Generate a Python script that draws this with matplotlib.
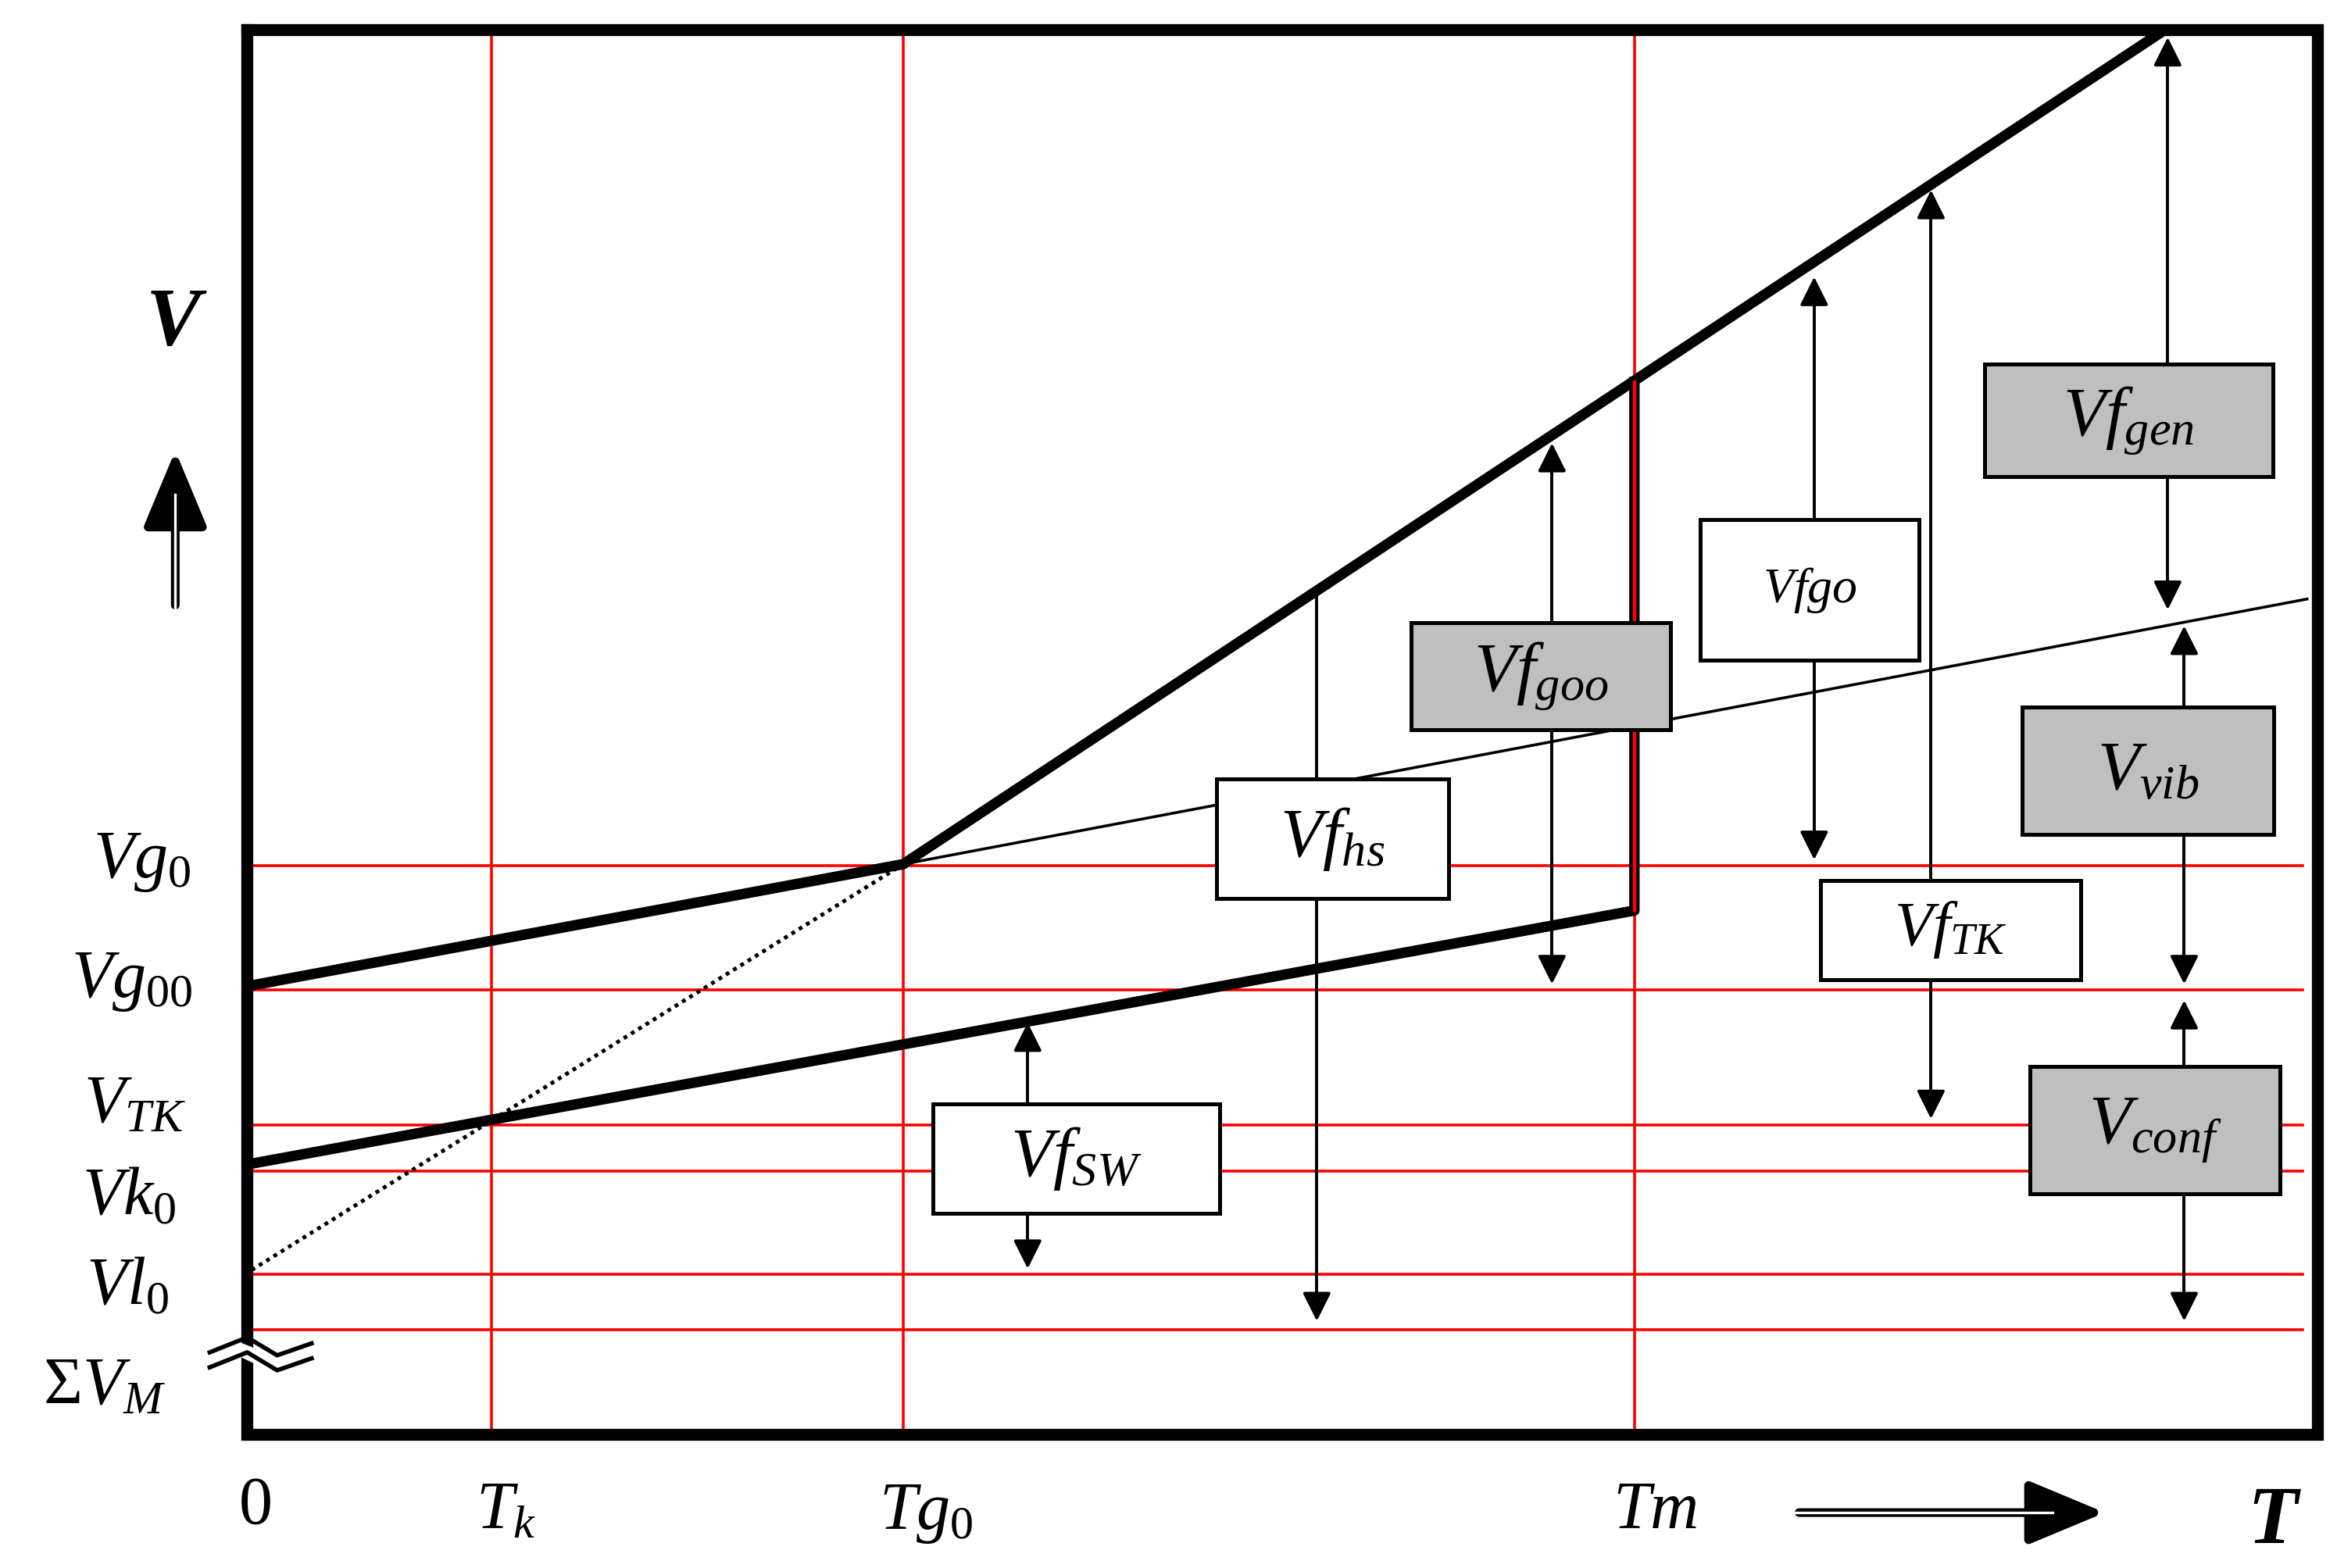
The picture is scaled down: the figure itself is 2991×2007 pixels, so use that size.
import matplotlib.pyplot as plt
import matplotlib as mpl

mpl.rcParams['mathtext.fontset'] = 'custom'
mpl.rcParams['mathtext.rm'] = 'Liberation Serif'
mpl.rcParams['mathtext.it'] = 'Liberation Serif:italic'
mpl.rcParams['mathtext.bf'] = 'Liberation Serif:bold:italic'

# diagram coordinates (screen-like units, y grows downward)
T_levels = {'0': 168, 'Tk': 328, 'Tg0': 603, 'Tm': 1091}
V_levels = {'Vg0': 578, 'Vg00': 661, 'VTK': 751, 'Vk0': 782, 'Vl0': 851, 'SVM': 888}
x_left, x_right, y_top, y_bot = 165, 1547, 20, 958

# thick glass line (upper), thin liquid continuation, dotted extrapolation, crystal line
upper_x = [168, 603, 1445]
upper_y = [658, 577, 20]
thin_x = [603, 1540]
thin_y = [577, 400]
dot_x = [168, 603]
dot_y = [848, 577]
cryst_x = [168, 1091, 1091]
cryst_y = [777, 608, 255]

# double arrows: x, top, bottom, head at top, head at bottom
arrows = [
    (879, 394, 885, False, True),
    (1036, 293, 660, True, True),
    (1211, 182, 577, True, True),
    (1289, 124, 750, True, True),
    (1447, 22, 410, True, True),
    (1458, 415, 660, True, True),
    (1458, 665, 885, True, True),
    (686, 680, 850, True, True),
]

# boxes: x0, y0, x1, y1, label, gray, fontsize
boxes = [
    (1325, 243, 1517, 318, r'$Vf_{gen}$', True, 32),
    (1350, 472, 1518, 557, r'$V_{vib}$', True, 32),
    (1355, 712, 1522, 797, r'$V_{conf}$', True, 32),
    (942, 416, 1115, 487, r'$Vf_{goo}$', True, 32),
    (1135, 347, 1281, 441, r'$Vfgo$', False, 23),
    (812, 520, 967, 600, r'$Vf_{hs}$', False, 32),
    (1215, 588, 1389, 654, r'$Vf_{TK}$', False, 29),
    (623, 737, 814, 810, r'$Vf_{SW}$', False, 32),
]

fig = plt.figure(figsize=(14.955, 10.035), dpi=200)
ax = fig.add_axes([0, 0, 1, 1])
ax.set_xlim(0, 1560)
ax.set_ylim(1047, 0)
ax.axis('off')

red = '#ff0000'
for y in V_levels.values():
    ax.plot([168, 1537], [y, y], color=red, lw=1.3, zorder=1)
for k, x in T_levels.items():
    if k != '0':
        ax.plot([x, x], [y_top, y_bot], color=red, lw=1.3, zorder=1)

ax.plot(upper_x, upper_y, color='black', lw=4.8, zorder=3, solid_capstyle='butt')
ax.plot(thin_x, thin_y, color='black', lw=1.3, zorder=3)
ax.plot(dot_x, dot_y, color='black', lw=1.8, ls=(0, (1, 1.2)), zorder=3)
ax.plot(cryst_x, cryst_y, color='black', lw=4.8, zorder=3)
ax.plot([1091, 1091], [608, 255], color=red, lw=1.6, zorder=4)

ax.plot([x_left, x_right, x_right, x_left, x_left],
        [y_top, y_top, y_bot, y_bot, y_top], color='black', lw=5.5, zorder=5,
        solid_joinstyle='miter')

for x, y0, y1, h0, h1 in arrows:
    ax.plot([x, x], [y0 + (14 if h0 else 0), y1 - (14 if h1 else 0)], color='black', lw=1.4, zorder=2)
    if h0:
        ax.annotate('', xy=(x, y0), xytext=(x, y0 + 20),
                    arrowprops=dict(arrowstyle='-|>', color='black', lw=1.4, mutation_scale=28), zorder=2)
    if h1:
        ax.annotate('', xy=(x, y1), xytext=(x, y1 - 20),
                    arrowprops=dict(arrowstyle='-|>', color='black', lw=1.4, mutation_scale=28), zorder=2)

for x0, y0, x1, y1, lab, gray, fs in boxes:
    ax.add_patch(plt.Rectangle((x0, y0), x1 - x0, y1 - y0, facecolor='#bfbfbf' if gray else 'white',
                               edgecolor='black', lw=1.8, zorder=6))
    ax.text((x0 + x1) / 2, (y0 + y1) / 2, lab, fontsize=fs, ha='center', va='center', zorder=7)

# left labels
left_labels = [(95, 575, r'$Vg_{\mathrm{0}}$'), (88, 655, r'$Vg_{00}$'), (90, 737, r'$V_{TK}$'),
               (86, 798, r'$Vk_{0}$'), (85, 858, r'$Vl_{0}$'), (70, 925, r'$\mathrm{\Sigma}V_{M}$')]
for x, y, lab in left_labels:
    ax.text(x, y, lab, fontsize=31, ha='center', va='center')
ax.text(118, 215, r'$\mathbf{V}$', fontsize=38, ha='center', va='center')
ax.annotate('', xy=(117, 298), xytext=(117, 407),
            arrowprops=dict(arrowstyle='-|>,head_width=0.5,head_length=1.2', color='black', lw=4,
                            mutation_scale=25))
ax.plot([117, 117], [330, 407], color='white', lw=1.2, zorder=10)

# bottom labels
bottom_labels = [(170, 1005, r'$\mathrm{0}$'), (338, 1008, r'$T_{k}$'), (618, 1010, r'$Tg_{\mathrm{0}}$'),
                 (1105, 1008, r'$Tm$')]
for x, y, lab in bottom_labels:
    ax.text(x, y, lab, fontsize=31, ha='center', va='center')
ax.text(1518, 1015, r'$\mathbf{T}$', fontsize=38, ha='center', va='center')
ax.annotate('', xy=(1408, 1010), xytext=(1198, 1010),
            arrowprops=dict(arrowstyle='-|>,head_width=0.5,head_length=1.2', color='black', lw=4,
                            mutation_scale=25))
ax.plot([1198, 1370], [1010, 1010], color='white', lw=1.2, zorder=10)

# axis break mark
for dy in (0, 10):
    ax.plot([140, 165, 185, 208], [903 + dy, 893 + dy, 905 + dy, 897 + dy], color='black', lw=2, zorder=11)
ax.add_patch(plt.Polygon([[160, 897], [185, 907], [185, 917], [160, 905]], color='white', zorder=10))

fig.savefig('out.png', dpi=200)
